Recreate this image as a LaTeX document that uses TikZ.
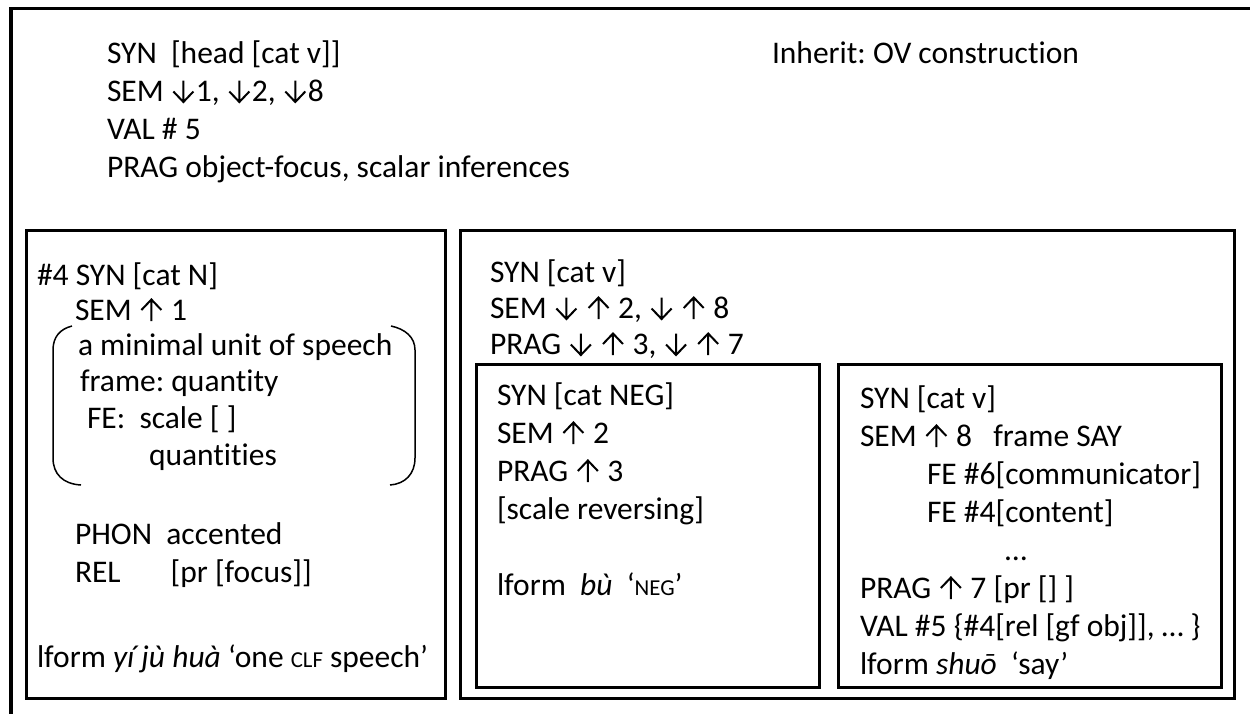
\documentclass[tikz,border=0pt]{standalone}
\usepackage{fontspec}
\setmainfont{Carlito}[Ligatures={NoCommon}]
% thin arrows with open chevron heads, sized to the capitals
\newcommand\UpArr{\tikz[baseline=0pt,x=1pt,y=1pt]{%
  \path[use as bounding box] (-12.5,0) rectangle (12.5,20);
  \draw[line width=2pt] (0,-1) -- (0,20.5) (-10,10) -- (0,20.5) -- (10,10);}}
\newcommand\DnArr{\tikz[baseline=0pt,x=1pt,y=1pt]{%
  \path[use as bounding box] (-12.5,0) rectangle (12.5,20);
  \draw[line width=2pt] (0,20.5) -- (0,-1) (-10,9.5) -- (0,-1) -- (10,9.5);}}
\newcommand\smcap[1]{{\fontsize{22.8}{22.8}\selectfont #1}}
\frenchspacing
\tikzset{
  ln/.style={anchor=base west, inner sep=0pt, outer sep=0pt,
             font=\fontsize{31.5}{37.8}\selectfont},
  boxframe/.style={draw, line width=3pt, anchor=north west, inner sep=0pt},
  brk/.style={draw, line width=1.5pt}
}
\begin{document}
\begin{tikzpicture}[x=1pt, y=-1pt]
\useasboundingbox (0,0) rectangle (1250,713);
\clip (0,0) rectangle (1250,713);

% outer construction frame (runs past the right and bottom edges)
\node[boxframe, line width=3.5pt, minimum width=1280pt, minimum height=740pt] (outer) at (9,6.5) {};

% inner frames
\node[boxframe, minimum width=419pt, minimum height=468pt] (lbox) at (25,229) {};
\node[boxframe, minimum width=774pt, minimum height=468pt] (rbox) at (459,229) {};
\node[boxframe, minimum width=343pt, minimum height=323pt] (negbox) at (475,363) {};
\node[boxframe, minimum width=383pt, minimum height=323pt] (saybox) at (837,363) {};

% top-level feature block
\node[ln] (t1) at (107,63) {SYN\ \ [head [cat v]]};
\node[ln] (t2) at (107,101) {SEM \DnArr1, \DnArr2, \DnArr8};
\node[ln] (t3) at (107,139) {VAL \# 5};
\node[ln] (t4) at (107,177) {PRAG object-focus, scalar inferences};
\node[ln] (inh) at (772,63) {Inherit: OV construction};

% noun phrase block
\node[ln] (l1) at (37,285) {\#4 SYN [cat N]};
\node[ln] (l2) at (75,320) {SEM \UpArr\ 1};
\node[ln] (l3) at (78,355) {a minimal unit of speech};
\node[ln] (l4) at (80,391) {frame: quantity};
\node[ln] (l5) at (87,428) {FE:\ \ scale [ ]};
\node[ln] (l6) at (149,465) {quantities};
\node[ln] (l7) at (75,544) {PHON\ \ accented};
\node[ln] (l8) at (75,582) {REL\hspace{50pt}[pr [focus]]};
\node[ln] (l9) at (37,667) {lform \textit{yí jù huà} ‘one \smcap{CLF} speech’};

% brackets round the frame description
\draw[brk] (72,326) .. controls (60,329) and (53,337) .. (53,350) -- (53,458)
           .. controls (53,474) and (63,484) .. (81,485);
\draw[brk] (391,326) .. controls (405,329) and (415,337) .. (415,350) -- (415,458)
           .. controls (415,474) and (405,484) .. (390,485);

% verb phrase block
\node[ln] (r1) at (490,282) {SYN [cat v]};
\node[ln] (r2) at (490,318) {SEM \DnArr\ \UpArr\ 2, \DnArr\ \UpArr\ 8};
\node[ln] (r3) at (490,354) {PRAG \DnArr\ \UpArr\ 3, \DnArr\ \UpArr\ 7};

% negator
\node[ln] (n1) at (497,405) {SYN [cat NEG]};
\node[ln] (n2) at (497,443) {SEM \UpArr\ 2};
\node[ln] (n3) at (497,481) {PRAG \UpArr\ 3};
\node[ln] (n4) at (497,519) {[scale reversing]};
\node[ln] (n5) at (497,595) {lform\ \ \textit{bù}\ \ ‘\smcap{NEG}’};

% verb 'say'
\node[ln] (s1) at (860,408) {SYN [cat v]};
\node[ln] (s2) at (860,446) {SEM \UpArr\ 8\ \ \ frame SAY};
\node[ln] (s3) at (927,484) {FE \#6[communicator]};
\node[ln] (s4) at (927,522) {FE \#4[content]};
\node[ln] (s5) at (1005,560) {…};
\node[ln] (s6) at (860,598) {PRAG \UpArr\ 7 [pr [] ]};
\node[ln] (s7) at (860,636) {VAL \#5 \{\#4[rel [gf obj]], … \}};
\node[ln] (s8) at (860,674) {lform \textit{shuō}\ \ ‘say’};
\end{tikzpicture}
\end{document}
